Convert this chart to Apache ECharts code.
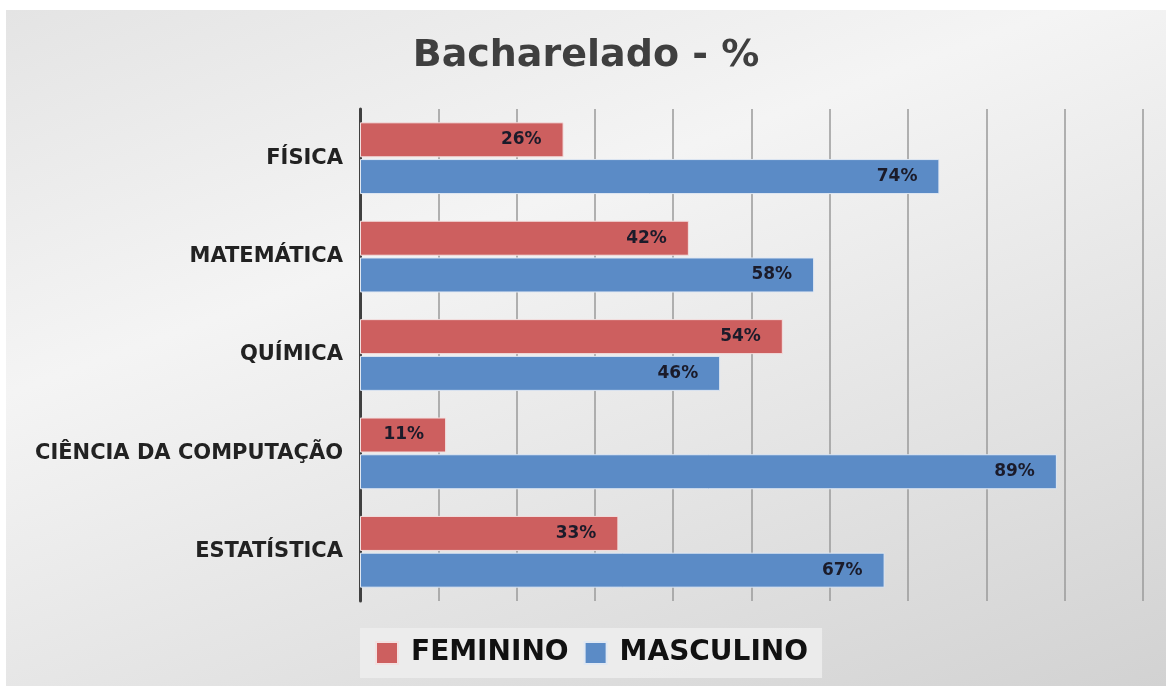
<!DOCTYPE html>
<html><head><meta charset="utf-8">
<script src="https://cdn.jsdelivr.net/npm/echarts@6/dist/echarts.min.js"></script>
<style>
html,body{margin:0;padding:0;background:#fff;width:1166px;height:686px;overflow:hidden}
#c{position:absolute;left:6px;top:10px;width:1160px;height:676px;
background:linear-gradient(160deg,#e4e4e4 0%,#f4f4f4 35%,#e2e2e2 70%,#d2d2d2 100%);}
</style></head>
<body><div id="c"></div>
<script>
const categories = ['FÍSICA','MATEMÁTICA','QUÍMICA','CIÊNCIA DA COMPUTAÇÃO','ESTATÍSTICA'];
const feminino = [26, 42, 54, 11, 33];
const masculino = [74, 58, 46, 89, 67];
const seriesNames = ['FEMININO','MASCULINO'];
const titleText = 'Bacharelado - %';

const chart = echarts.init(document.getElementById('c'), null, {renderer:'canvas'});
const lbl = {
  show:true, position:'insideRight', distance:22,
  formatter: p => p.value + '%',
  color:'#1b1b2a', fontFamily:'DejaVu Sans', fontWeight:'bold', fontSize:17
};
chart.setOption({
  backgroundColor:'transparent',
  animation:false,
  title:{text:titleText, left:'center', top:22, padding:[5,5,5,19],
    textStyle:{fontFamily:'DejaVu Sans', fontWeight:'bold', fontSize:38, color:'#3f3f3f'}},
  legend:{
    data:seriesNames, bottom:8, left:354, itemWidth:22, itemHeight:22, itemGap:15,
    padding:[11,14,11,15], backgroundColor:'rgba(236,236,236,0.95)',
    icon:'rect',
    textStyle:{fontFamily:'DejaVu Sans', fontWeight:'bold', fontSize:28, color:'#111', padding:[0,0,0,8]}
  },
  grid:{left:354, right:23, top:99, bottom:85, containLabel:false},
  xAxis:{type:'value', min:0, max:100, interval:10,
    axisLabel:{show:false}, axisLine:{show:false}, axisTick:{show:false},
    splitLine:{show:true, lineStyle:{color:'#9a9a9a', width:1.5}}},
  yAxis:{type:'category', data:categories, inverse:true,
    axisLine:{show:true, lineStyle:{color:'#404040', width:3}},
    axisTick:{show:false},
    axisLabel:{margin:17, fontFamily:'DejaVu Sans', fontWeight:'bold', fontSize:21, color:'#222'}},
  series:[
    {name:seriesNames[0], type:'bar', data:feminino, barWidth:35, barGap:'5%',
     itemStyle:{color:'#cd5f5f', borderColor:'#f3e0e0', borderWidth:1}, label:lbl},
    {name:seriesNames[1], type:'bar', data:masculino, barWidth:35, barGap:'5%',
     itemStyle:{color:'#5b8bc6', borderColor:'#e0e8f3', borderWidth:1}, label:lbl}
  ]
});
</script></body></html>
